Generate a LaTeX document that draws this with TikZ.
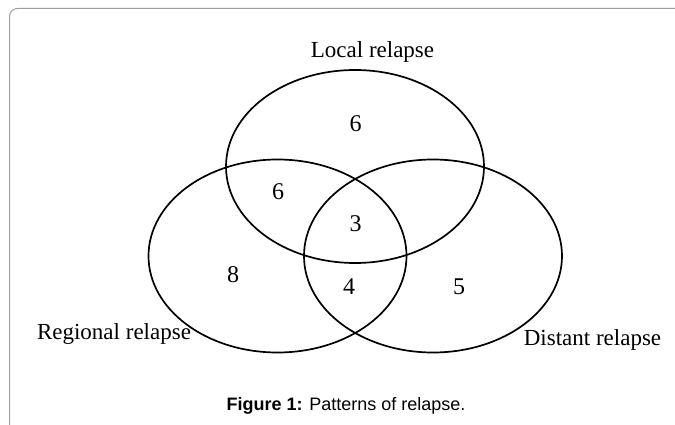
\documentclass[tikz,border=0pt]{standalone}
\usepackage{fontspec}
\setmainfont{Liberation Serif}
\setsansfont{Liberation Sans}
\usetikzlibrary{shapes.geometric}
\usetikzlibrary{positioning}
\tikzset{
setell/.style={
  draw,ellipse,line width=1.7pt,inner sep=0pt,
  minimum width=258pt,minimum height=193pt},
setlbl/.style={
  inner sep=0pt,font=\fontsize{23}{27}\selectfont},
cnt/.style={
  inner sep=0pt,font=\fontsize{24}{28}\selectfont}
}
\begin{document}
\begin{tikzpicture}[x=1pt,y=-1pt]
\useasboundingbox (0,0) rectangle (675,425);
\fill[white] (0,0) rectangle (675,425);
\draw[gray!75,line width=1pt,rounded corners=8pt] (9.5,440) -- (9.5,8.5) -- (700,8.5);

\node[setell](Local) at (355,166.5){};
\node[setell](Regional) at (277.5,256){};
\node[setell](Distant) at (433,256){};

\node[cnt](nL) at (355.5,123.5){6};
\node[cnt](nLR) at (278,192){6};
\node[cnt](nLRD) at (355.5,223.5){3};
\node[cnt](nR) at (233,275){8};
\node[cnt](nRD) at (349,287){4};
\node[cnt](nD) at (459,287){5};

\node[setlbl,above=6.7pt of Local.north,xshift=17.5pt](Llab){Local relapse};
\node[setlbl](Rlab) at (114,334){Regional relapse};
\node[setlbl](Dlab) at (592.5,339.6){Distant relapse};

\node[font=\sffamily\fontsize{18}{22}\selectfont,inner sep=0pt](cap) at (346,406.3){\textbf{Figure 1:} Patterns of relapse.};
\end{tikzpicture}
\end{document}
